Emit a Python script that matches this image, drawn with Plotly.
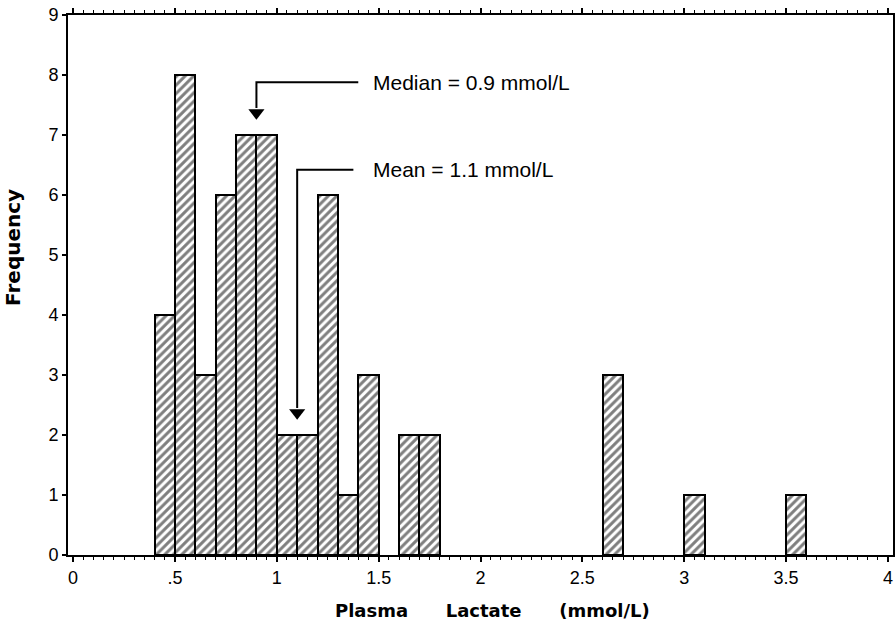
import plotly.graph_objects as go

# Data: histogram of plasma lactate (bin width 0.1 mmol/L)
bin_left = [0.4, 0.5, 0.6, 0.7, 0.8, 0.9, 1.0, 1.1, 1.2, 1.3, 1.4, 1.6, 1.7, 2.6, 3.0, 3.5]
frequency = [4, 8, 3, 6, 7, 7, 2, 2, 6, 1, 3, 2, 2, 3, 1, 1]
bin_width = 0.1

x_tickvals = [0, 0.5, 1, 1.5, 2, 2.5, 3, 3.5, 4]
x_ticktext = ["0", ".5", "1", "1.5", "2", "2.5", "3", "3.5", "4"]
y_tickvals = [0, 1, 2, 3, 4, 5, 6, 7, 8, 9]

median_value = 0.9
mean_value = 1.1
median_label = "Median = 0.9 mmol/L"
mean_label = "Mean = 1.1 mmol/L"

FONT = "Liberation Sans"
BOLD = "DejaVu Sans"

centers = [b + bin_width / 2 for b in bin_left]

fig = go.Figure()
fig.add_trace(go.Bar(
    x=centers, y=frequency, width=bin_width,
    marker=dict(color="white", line=dict(color="black", width=2),
                pattern=dict(shape="/", fgcolor="black", bgcolor="white",
                             size=6, solidity=0.5)),
    showlegend=False, hoverinfo="skip",
))

# Elbow callout lines
fig.add_trace(go.Scatter(
    x=[1.40, median_value, median_value], y=[7.88, 7.88, 7.45],
    mode="lines", line=dict(color="black", width=2), showlegend=False, hoverinfo="skip"))
fig.add_trace(go.Scatter(
    x=[1.376, mean_value, mean_value], y=[6.42, 6.42, 2.45],
    mode="lines", line=dict(color="black", width=2), showlegend=False, hoverinfo="skip"))
fig.add_trace(go.Scatter(
    x=[median_value, mean_value], y=[7.37, 2.37],
    mode="markers", marker=dict(symbol="triangle-down", size=14, color="black"),
    showlegend=False, hoverinfo="skip"))

fig.add_annotation(x=1.46, y=7.88, xref="x", yref="y", text=median_label,
                   showarrow=False, xanchor="left", yanchor="middle",
                   font=dict(family=FONT, size=21, color="black"))
fig.add_annotation(x=1.46, y=6.42, xref="x", yref="y", text=mean_label,
                   showarrow=False, xanchor="left", yanchor="middle",
                   font=dict(family=FONT, size=21, color="black"))

# Axis titles
fig.add_annotation(x=0.515, y=-0.102, xref="paper", yref="paper", yanchor="middle",
                   text="Plasma      Lactate      (mmol/L)", showarrow=False,
                   font=dict(family=BOLD, size=18, color="black", weight="bold"))
fig.add_annotation(x=-0.067, y=0.57, xref="paper", yref="paper", xanchor="center",
                   yanchor="middle",
                   text="Frequency", textangle=-90, showarrow=False,
                   font=dict(family=BOLD, size=20, color="black", weight="bold"))

fig.update_xaxes(range=[-0.025, 4.025], tickvals=x_tickvals, ticktext=x_ticktext,
                 ticks="outside", ticklen=5, tickwidth=2, tickcolor="black",
                 showline=True, linecolor="black", linewidth=2, mirror="ticks",
                 showgrid=False, zeroline=False, automargin=False,
                 minor=dict(dtick=0.05, tick0=0, ticks="outside", ticklen=3,
                            tickwidth=1, tickcolor="black", showgrid=False),
                 tickfont=dict(family=FONT, size=18, color="black"))
fig.update_yaxes(range=[0, 9], tickvals=y_tickvals,
                 ticks="outside", ticklen=4, tickwidth=2, tickcolor="black",
                 showline=True, linecolor="black", linewidth=2, mirror="ticks",
                 showgrid=False, zeroline=False, automargin=False,
                 tickfont=dict(family=FONT, size=18, color="black"))

fig.update_layout(width=895, height=631, margin=dict(l=68, r=2, t=15, b=76),
                  plot_bgcolor="white", paper_bgcolor="white", bargap=0)

fig.write_html("out.html", config={"displayModeBar": False},
               post_script="document.body.style.margin='0px';document.body.style.overflow='hidden';")
